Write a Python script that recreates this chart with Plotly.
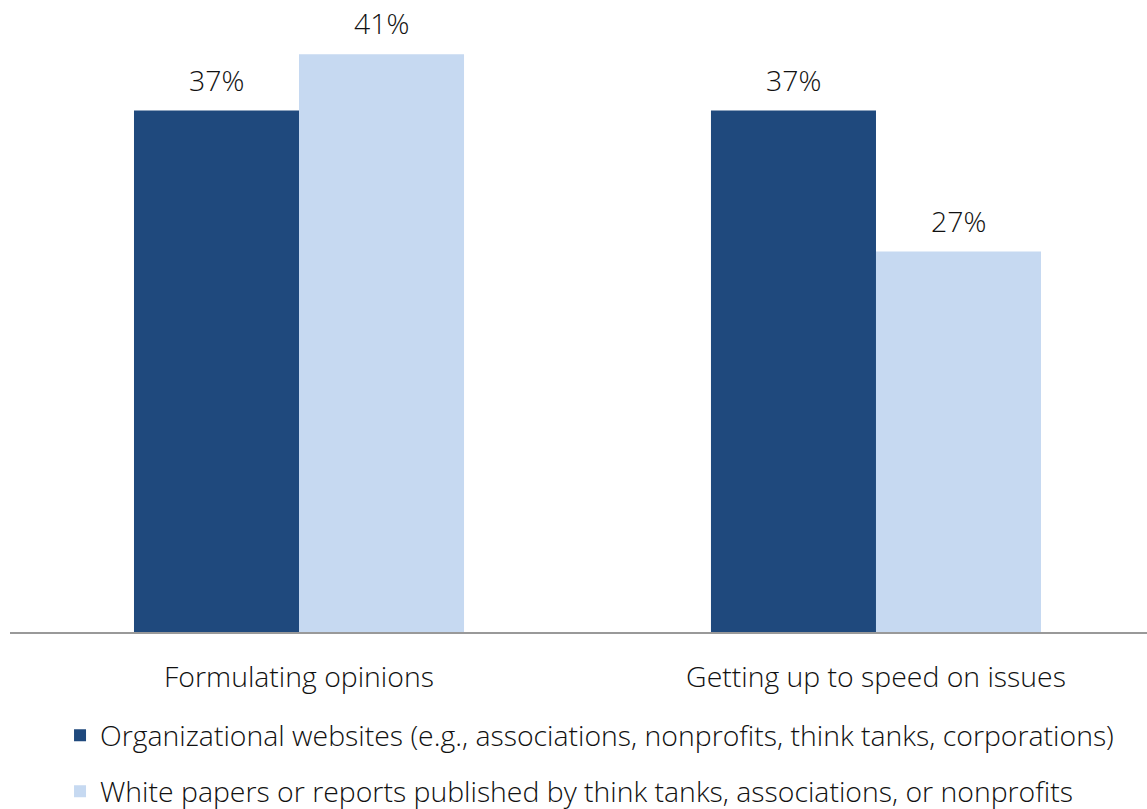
import plotly.graph_objects as go

categories = ["Formulating opinions", "Getting up to speed on issues"]
series_names = [
    "Organizational websites (e.g., associations, nonprofits, think tanks, corporations)",
    "White papers or reports published by think tanks, associations, or nonprofits",
]
org_websites = [37, 37]
white_papers = [41, 27]
colors = ["#1F497D", "#C6D9F1"]

FONT = "Open Sans"
FONT_SIZE = 28.4
TEXT_COLOR = "#111111"
BAR_WIDTH = 0.286  # width of one bar in category units

fig = go.Figure()
all_series = [org_websites, white_papers]
for i, (name, vals) in enumerate(zip(series_names, all_series)):
    fig.add_trace(go.Bar(
        x=categories,
        y=vals,
        name=name,
        legendgroup=f"g{i}",
        marker=dict(color=colors[i], line=dict(width=0)),
        width=BAR_WIDTH,
        offset=(i - 1) * BAR_WIDTH,
        cliponaxis=False,
    ))

# value labels above each bar
for i, vals in enumerate(all_series):
    for j, v in enumerate(vals):
        fig.add_annotation(
            x=j + (i - 0.5) * BAR_WIDTH,
            y=v,
            xref="x", yref="y",
            text=f"{v}%",
            showarrow=False,
            yanchor="middle",
            yshift=31,
            font=dict(family=FONT, size=FONT_SIZE, color=TEXT_COLOR, weight=300),
        )

fig.update_layout(
    width=1147,
    height=809,
    margin=dict(l=10, r=0, t=0, b=177, autoexpand=False),
    paper_bgcolor="white",
    plot_bgcolor="white",
    barmode="overlay",
    font=dict(family=FONT, size=FONT_SIZE, color=TEXT_COLOR, weight=300),
    showlegend=True,
    legend=dict(
        orientation="v",
        x=0.044, xanchor="left",
        y=-0.124, yanchor="top",
        font=dict(family=FONT, size=FONT_SIZE, color=TEXT_COLOR, weight=300),
        tracegroupgap=16,
        bgcolor="rgba(0,0,0,0)",
    ),
    xaxis=dict(
        type="category",
        range=[-0.5009, 1.4697],
        showgrid=False,
        showline=True,
        linecolor="#999999",
        linewidth=2,
        ticks="",
        ticklabelstandoff=19,
        tickfont=dict(family=FONT, size=FONT_SIZE, color=TEXT_COLOR, weight=300),
        fixedrange=True,
    ),
    yaxis=dict(
        range=[0, 44.85],
        visible=False,
        fixedrange=True,
    ),
)

fig.write_html("out.html")
